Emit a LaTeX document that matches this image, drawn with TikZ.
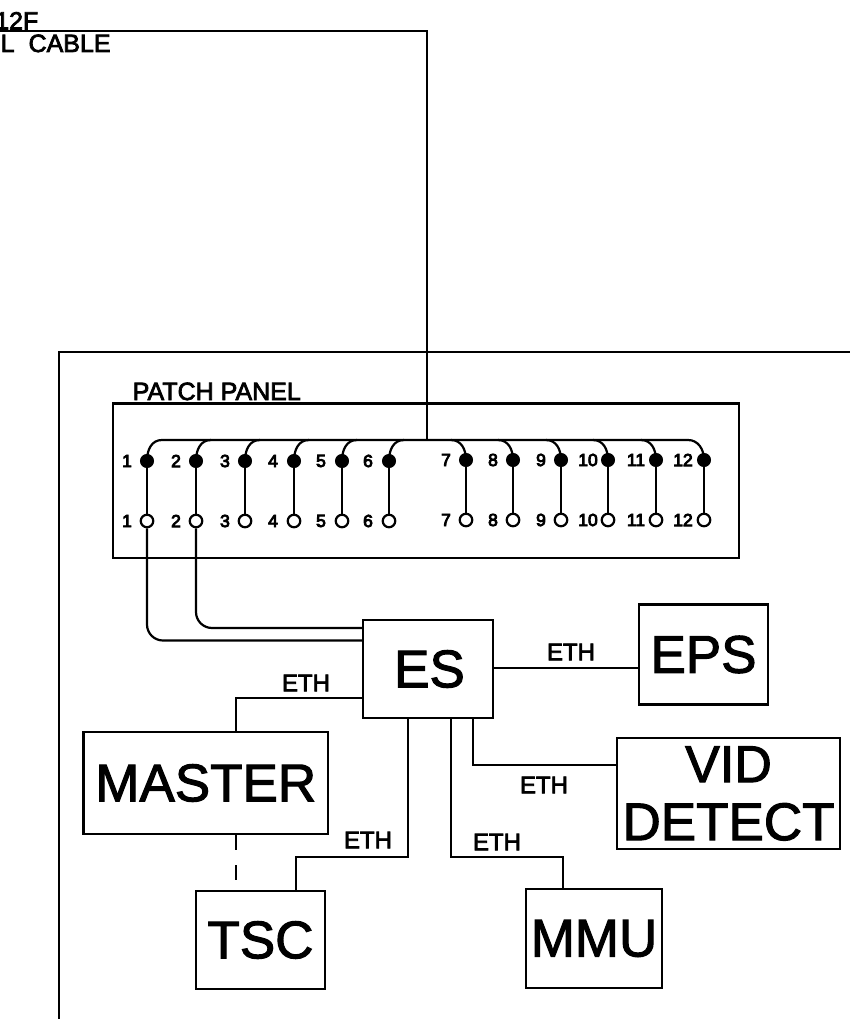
\documentclass[tikz,border=0pt]{standalone}
\usepackage{fontspec}
\setmainfont{Liberation Sans}
\newfontfamily\bigfont[FakeBold=2]{Liberation Sans}
\newfontfamily\midfont[FakeBold=3]{Liberation Sans}
\newfontfamily\smallfont[FakeBold=5]{Liberation Sans}
\tikzset{
  wire/.style={draw=black,line width=2.2pt},
  box/.style={draw=black,line width=2.2pt,rectangle,inner sep=0pt,font=\bigfont\fontsize{53}{58}\selectfont,align=center},
  eth/.style={inner sep=0pt,font=\midfont\fontsize{24}{26}\selectfont},
  num/.style={inner sep=0pt,font=\smallfont\fontsize{17.5}{19}\selectfont},
  pinon/.style={circle,fill=black,draw=black,line width=1pt,minimum size=13pt,inner sep=0pt},
  pinoff/.style={circle,fill=white,draw=black,line width=2.2pt,minimum size=12.5pt,inner sep=0pt},
  lbl/.style={inner sep=0pt,font=\midfont\fontsize{25}{27}\selectfont,anchor=base west}
}
\begin{document}
\begin{tikzpicture}[x=1pt,y=-1pt]
\useasboundingbox (0,0) rectangle (850,1019);
% outer enclosure
\coordinate (outerA) at (850,352);
\coordinate (outerB) at (59,1019);
\draw[wire] (outerA) -| (outerB);
% patch panel
\node[box,minimum width=626pt,minimum height=154.5pt] (panel) at (426,480.75) {};
\node[inner sep=0pt,font=\midfont\fontsize{25}{27}\selectfont,anchor=base west] (pptitle) at (132.5,400) {PATCH PANEL};
% pins
\foreach \n/\x/\lx/\ya/\yb in {1/147/127/461/521,2/196/176/461/521,3/245/225/461/521,4/294/273/461/521,5/342/321/461/521,6/389/368/461/521,7/466/446/460/520,8/513/493/460/520,9/561/541/460/520,10/608/588/460/520,11/656/636/460/520,12/704/683/460/520}{
  \node[pinon] (t\n) at (\x,\ya) {};
  \node[pinoff] (b\n) at (\x,\yb) {};
  \draw[wire] (t\n) -- (b\n);
  \node[num] (lt\n) at (\lx,\ya) {\n};
  \node[num] (lb\n) at (\lx,\yb) {\n};
}
% bus with arcs
\coordinate (busL) at (162,440);
\coordinate (busR) at (688,440);
\draw[wire] (t1.center) .. controls (147,449) and (152,440) .. (busL) -- (busR) .. controls (698,440) and (704,449) .. (t12.center);
\foreach \n/\x in {2/196,3/245,4/294,5/342,6/389}{
  \draw[wire] (t\n.center) .. controls (\x,449) and (\x+5,440) .. (\x+15,440);
}
\foreach \n/\x in {7/466,8/513,9/561,10/608,11/656}{
  \draw[wire] (t\n.center) .. controls (\x,449) and (\x-5,440) .. (\x-15,440);
}
% incoming cable
\coordinate (cableA) at (0,31);
\coordinate (cableB) at (427,440);
\draw[wire] (cableA) -| (cableB);
\node[lbl] (l12f) at (-5,29.5) {12F};
\node[lbl] (lcable) at (0.5,52) {L\hspace{14pt}CABLE};
% boxes
\node[box,minimum width=130pt,minimum height=98pt] (es) at (428,669) {\hspace{3pt}ES};
\node[box,minimum width=129pt,minimum height=100pt] (eps) at (703.5,654.5) {EPS};
\node[box,minimum width=223pt,minimum height=111pt] (vid) at (728.5,793.5) {\fontsize{52}{52}\selectfont VID\\DETECT};
\node[box,minimum width=244.5pt,minimum height=102pt] (master) at (205.75,783) {MASTER};
\node[box,minimum width=129pt,minimum height=98pt] (tsc) at (260.5,940) {TSC};
\node[box,minimum width=136pt,minimum height=99pt] (mmu) at (594,938.5) {MMU};
% cable to ES
\draw[wire,rounded corners=16pt] (b1) -- (147,640.5) -- (es.west |- 0,640.5);
\draw[wire,rounded corners=16pt] (b2) -- (196,628) -- (es.west |- 0,628);
% ETH links
\draw[wire] (es.east |- 0,668) -- (eps.west |- 0,668);
\node[eth] (e1) at (571,652) {ETH};
\draw[wire] (es.south -| 473,0) -- (473,765) -- (vid.west |- 0,765);
\node[eth] (e2) at (544,785) {ETH};
\draw[wire] (es.south -| 451,0) -- (451,857) -- (563,857) -- (mmu.north -| 563,0);
\node[eth] (e3) at (497,842) {ETH};
\draw[wire] (es.south -| 408,0) -- (408,857) -- (296,857) -- (tsc.north -| 296,0);
\node[eth] (e4) at (368,840) {ETH};
\draw[wire] (es.west |- 0,698) -- (236,698) -- (master.north -| 236,0);
\node[eth] (e5) at (306,683) {ETH};
\draw[wire,dash pattern=on 15pt off 15pt] (master.south -| 236,0) -- (236,882);
\end{tikzpicture}
\end{document}
